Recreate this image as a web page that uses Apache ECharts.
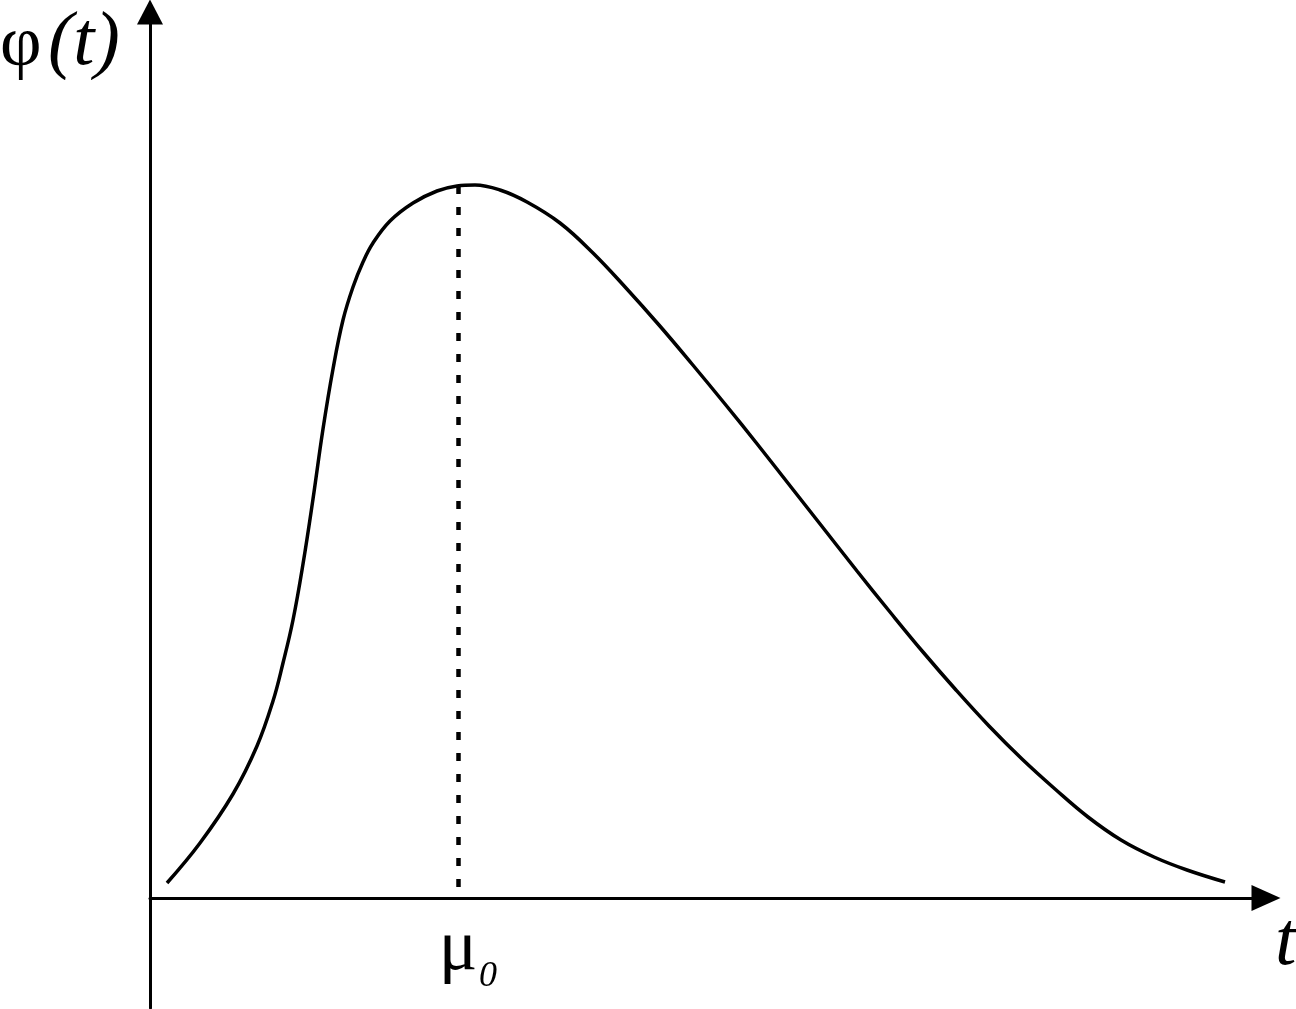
<!DOCTYPE html>
<html><head><meta charset="utf-8">
<script src="https://cdn.jsdelivr.net/npm/echarts@6/dist/echarts.min.js"></script>
<style>html,body{margin:0;padding:0;background:#fff}#c{width:1296px;height:1009px}</style>
</head><body><div id="c"></div>
<script>
// t positions along the horizontal axis (arbitrary units)
const tValues = [17, 50, 83, 107, 123, 133, 143, 153, 163, 173, 183, 193, 203, 213, 223, 240, 263, 287, 307, 325, 350, 377, 410, 443, 476, 509, 542, 575, 608, 641, 674, 707, 740, 773, 806, 839, 872, 905, 938, 971, 1004, 1037, 1075];
// φ(t) values (arbitrary units)
const phiValues = [15, 55, 104, 152, 197, 235, 278, 334, 399, 469, 529, 578, 611, 636, 655, 677, 695, 707, 712, 713, 708, 696, 675, 645, 610, 573, 534, 494, 453, 411, 369, 327, 286, 246, 208, 172, 139, 109, 81, 58, 41, 28, 16];
const peakT = 308;
const peakPhi = 712;
const tRange = [0, 1116];
const phiRange = [-110, 886];
const yName = ['φ', '(t)'];
const xName = 't';
const peakLabel = ['μ', '0'];

const chart = echarts.init(document.getElementById('c'), null, {renderer: 'canvas'});
const curve = tValues.map((t, i) => [t, phiValues[i]]);
const axisLineStyle = {color: '#000', width: 3};
chart.setOption({
  animation: false,
  backgroundColor: '#fff',
  grid: {left: 150, right: 30, top: 12, bottom: 1},
  xAxis: {
    type: 'value', min: tRange[0], max: tRange[1],
    axisLine: {onZero: true, lineStyle: axisLineStyle, symbol: ['none', 'triangle'], symbolSize: [26, 29]},
    axisTick: {show: false}, axisLabel: {show: false}, splitLine: {show: false}
  },
  yAxis: {
    type: 'value', min: phiRange[0], max: phiRange[1],
    axisLine: {onZero: false, lineStyle: axisLineStyle, symbol: ['none', 'triangle'], symbolSize: [26, 25]},
    axisTick: {show: false}, axisLabel: {show: false}, splitLine: {show: false}
  },
  series: [{
    type: 'line',
    data: curve,
    smooth: 0.4,
    showSymbol: false,
    symbol: 'none',
    lineStyle: {color: '#000', width: 3.5},
    markLine: {
      silent: true,
      symbol: ['none', 'none'],
      label: {show: false},
      lineStyle: {color: '#000', width: 4.5, type: [8, 13]},
      data: [[{coord: [peakT, peakPhi]}, {coord: [peakT, 0]}]]
    }
  }]
});

const pk = chart.convertToPixel({gridIndex: 0}, [peakT, 0]);
const serif = '"Liberation Serif", "Times New Roman", serif';
chart.setOption({
  graphic: [
    {type: 'text', x: 0, y: 46, style: {text: yName[0], font: '72px ' + serif, fill: '#000', align: 'left', verticalAlign: 'middle'}},
    {type: 'text', x: 48, y: 44, style: {text: yName[1], font: 'italic 76px ' + serif, fill: '#000', align: 'left', verticalAlign: 'middle'}},
    {type: 'text', x: 1275, y: 944, style: {text: xName, font: 'italic 77px ' + serif, fill: '#000', align: 'left', verticalAlign: 'middle'}},
    {type: 'text', x: pk[0], y: 950, style: {text: peakLabel[0], font: '72px ' + serif, fill: '#000', align: 'center', verticalAlign: 'middle'}},
    {type: 'text', x: pk[0] + 21, y: 977, style: {text: peakLabel[1], font: 'italic 36px ' + serif, fill: '#000', align: 'left', verticalAlign: 'middle'}}
  ]
});
</script></body></html>
